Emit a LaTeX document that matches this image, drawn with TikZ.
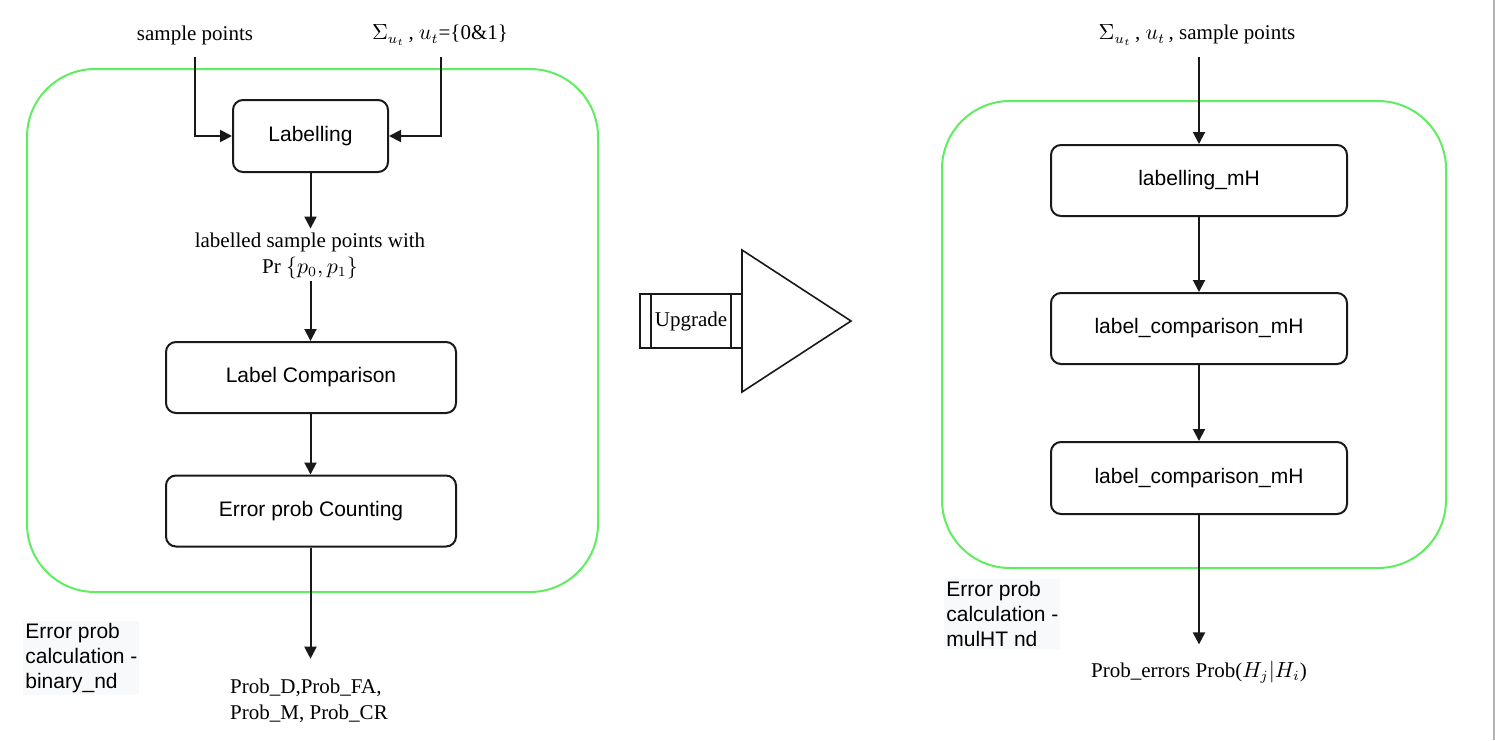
\documentclass[tikz,border=0pt]{standalone}
\usepackage{fontspec}
\setmainfont{Liberation Serif}
\setsansfont{Liberation Sans}
\usetikzlibrary{arrows.meta}
\definecolor{cgreen}{RGB}{95,238,95}
\definecolor{lblbg}{RGB}{248,249,250}
\begin{document}
\begin{tikzpicture}[x=0.5pt,y=-0.5pt,
  box/.style={draw=black!90,line width=1pt,rounded corners=5pt,fill=white,
    font=\sffamily\fontsize{10.5}{12.5}\selectfont,inner sep=0pt},
  cont/.style={draw=cgreen,line width=1pt,rounded corners=34pt},
  arr/.style={draw=black!90,line width=1pt,-{Triangle[length=6pt,width=6pt]}},
  ln/.style={draw=black!90,line width=1pt},
  txt/.style={font=\fontsize{10.5}{13}\selectfont,inner sep=0pt},
  side/.style={font=\sffamily\fontsize{10.5}{12.5}\selectfont,align=left,fill=lblbg,inner sep=1pt,anchor=north west}]
\useasboundingbox (0,0) rectangle (1495,740);
\fill[white] (0,0) rectangle (1495,740);
\draw[black!30,line width=0.8pt] (1494,0) -- (1494,740);

% containers
\draw[cont] (27,69) rectangle (598,592);
\draw[cont] (942,101) rectangle (1446,568);

% left diagram
\node[txt] (sp) at (195,35) {sample points};
\node[txt] (sig) at (440,35) {$\Sigma_{u_t}$\,, $u_t$=\{0\&1\}};
\coordinate (spo) at (195,57);
\coordinate (sigo) at (441,57);
\node[box,minimum width=77.5pt,minimum height=36pt] (lab) at (310.5,136) {Labelling};
\node[txt,align=center] (mid) at (310,256) {labelled sample points with\\Pr $\{p_0,p_1\}$};
\node[box,minimum width=145pt,minimum height=35.5pt] (lc) at (311,377.5) {Label Comparison};
\node[box,minimum width=145pt,minimum height=35.5pt] (epc) at (311,511) {Error prob Counting};
\node[txt,align=left] (out) at (309,701) {Prob\_D,Prob\_FA,\\Prob\_M, Prob\_CR};
\node[side] (lname) at (23,621) {Error prob\\calculation -\\binary\_nd};

\draw[arr] (spo) |- (lab.west);
\draw[arr] (sigo) |- (lab.east);
\draw[arr] (lab.south) -- ([yshift=2pt]mid.north -| lab.south);
\draw[arr] ([yshift=-1pt]mid.south -| lab.south) -- (lab.south |- lc.north);
\draw[arr] (lc.south -| lab.south) -- (lab.south |- epc.north);
\draw[arr] (epc.south -| lab.south) -- ([yshift=10pt]out.north -| lab.south);

% upgrade arrow
\node[draw=black!90,line width=0.8pt,minimum width=51pt,minimum height=27pt,inner sep=0pt,
  font=\fontsize{10.5}{13}\selectfont] (upg) at (691,321) {Upgrade};
\draw[ln,line width=0.8pt] (651,294) -- (651,348) (731,294) -- (731,348);
\draw[ln,line width=0.8pt,fill=white] (742,250) -- (851,321) -- (742,392) -- cycle;

% right diagram
\node[txt] (rin) at (1197,35) {$\Sigma_{u_t}$\,, $u_t$\,, sample points};
\coordinate (rino) at (1199,57);
\node[box,minimum width=148pt,minimum height=35.5pt] (r1) at (1199,180.5) {labelling\_mH};
\node[box,minimum width=148pt,minimum height=35.5pt] (r2) at (1199,328.5) {label\_comparison\_mH};
\node[box,minimum width=148pt,minimum height=36pt] (r3) at (1199,478) {label\_comparison\_mH};
\node[txt] (rout) at (1199,672) {Prob\_errors Prob($H_j|H_i$)};
\node[side] (rname) at (944,579) {Error prob\\calculation -\\mulHT nd};

\draw[arr] (rino) -- (r1.north);
\draw[arr] (r1.south) -- (r2.north);
\draw[arr] (r2.south) -- (r3.north);
\draw[arr] (r3.south) -- ([yshift=8pt]rout.north);
\end{tikzpicture}
\end{document}
